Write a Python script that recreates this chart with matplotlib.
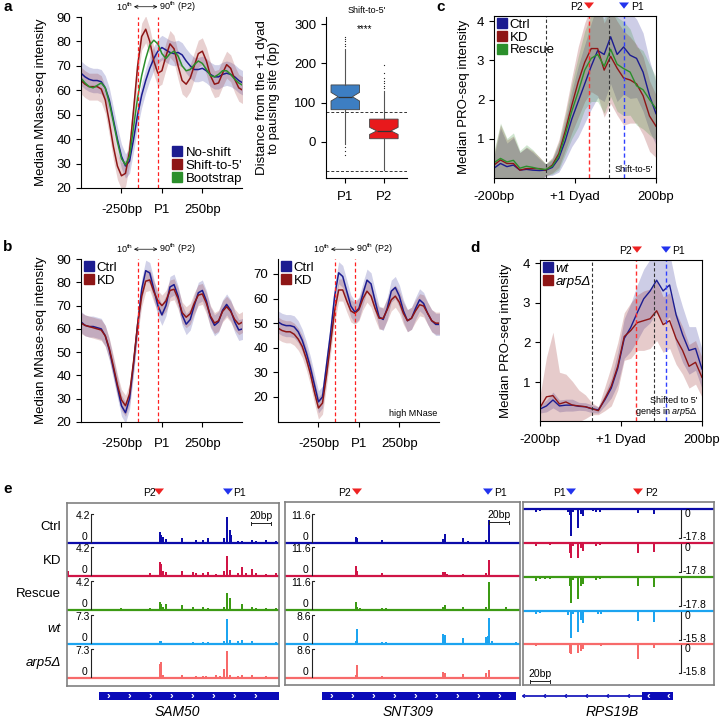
import numpy as np
import matplotlib.pyplot as plt
from matplotlib.lines import Line2D

plt.rcParams['font.family'] = ['Liberation Sans', 'DejaVu Sans']
plt.rcParams['mathtext.fontset'] = 'custom'
plt.rcParams['mathtext.rm'] = 'Liberation Sans'
plt.rcParams['mathtext.it'] = 'Liberation Sans:italic'
plt.rcParams['font.size'] = 9.5
plt.rcParams['axes.linewidth'] = 0.8
plt.rcParams['xtick.major.size'] = 3.5
plt.rcParams['ytick.major.size'] = 3.5
plt.rcParams['xtick.major.width'] = 0.8
plt.rcParams['ytick.major.width'] = 0.8

# ---------------- data ----------------
mnase_x = np.arange(-500, 501, 25)

a_noshift = [67, 65.5, 64.5, 64, 64, 63.5, 61, 56, 48, 40, 33, 29, 31, 40, 50, 58, 64, 69, 73, 76,
             77.5, 76.5, 75.5, 75, 75.5, 74.5, 72, 70, 68.5, 68.5, 69, 68, 66.5, 65.5, 65.5, 66.5,
             67, 66.5, 65.5, 64, 63]
a_shift5 = [64, 62.5, 61.5, 61.5, 61.5, 60.5, 56, 47, 37, 29, 25, 26, 35, 52, 70, 82, 85, 80, 72, 67,
            68, 74, 79, 77, 70, 64, 62.5, 65, 70, 75, 76, 72, 66, 62.5, 63, 67, 70.5, 69, 64.5, 61, 60]
a_boot = [65, 63, 61.5, 61, 62, 63, 61, 55, 47, 39, 32, 29.5, 33, 45, 57, 66, 73, 78.5, 80.5, 79,
          75, 73, 75, 76, 74, 70, 68, 68.5, 70.5, 72, 71, 68.5, 66, 65.5, 66.5, 68, 68, 66.5, 64.5,
          63, 62]
a_spread = [5.0, 5.5]  # no-shift, shift-to-5'

b_ctrl = [63, 61.5, 61, 61, 60.5, 60, 57, 51, 43, 35, 27, 24, 30, 45, 62, 77, 85, 84, 77, 70,
          66, 70, 78, 79, 74, 66, 62, 64, 70, 75.5, 76.5, 72, 65, 61.5, 63, 68, 70.5, 68, 63, 59.5, 60]
b_kd = [62.5, 61.5, 61, 60.5, 60, 59.5, 57, 51.5, 44, 36, 29.5, 27, 32, 46, 62, 74, 80.5, 81, 76, 72,
        70, 72, 76.5, 77, 73, 67, 65, 66.5, 71, 74.5, 75, 71, 65.5, 62.5, 63.5, 67.5, 69.5, 67.5, 64,
        62, 63]
bh_ctrl = [50.5, 49.5, 49, 49, 48.5, 46.5, 43, 38, 32, 25, 18, 20, 33, 46, 61, 70.5, 69, 63, 57, 54.5,
           56, 62, 67.5, 66, 59, 52.5, 51.5, 56, 63, 64.5, 61, 55, 51, 52, 56, 59.5, 58, 54, 51, 49.5,
           49.5]
bh_kd = [48, 47, 46.5, 46.5, 45.5, 43.5, 40.5, 35.5, 29.5, 22, 15.5, 17.5, 29, 42, 55, 63.5, 63.5, 59,
         55, 54, 55.5, 60, 63, 61, 56, 52, 52, 55.5, 59.5, 61, 58.5, 54, 51, 52, 55, 57.5, 57, 54, 51,
         50, 50]
b_spread = 4.5
p2_pct = [-148, -25]  # 10th / 90th percentile of P2

box_labels = ['P1', 'P2']
box_med = [115, 28]
box_q1 = [82, 8]
box_q3 = [145, 58]
box_lo = [-5, -72]
box_hi = [237, 130]
box_ci_lo = [104, 19]
box_ci_hi = [126, 37]
box_fliers = [[243, 250, 256, 262, 268, -12, -24, -34],
              [137, 143, 150, 156, 163, 175, 196]]

pro_x = np.arange(-200, 201, 16)
c_ctrl = [0.25, 0.37, 0.29, 0.33, 0.2, 0.22, 0.2, 0.19, 0.2, 0.27, 0.5, 0.95, 1.5, 1.95, 2.4, 2.85,
          3.25, 3.15, 3.6, 3.15, 3.34, 3.13, 3.05, 2.7, 2.1, 1.64]
c_kd = [0.33, 0.46, 0.37, 0.37, 0.2, 0.24, 0.24, 0.24, 0.2, 0.33, 0.62, 1.2, 1.85, 2.45, 2.95, 3.3,
        3.3, 2.75, 3.1, 2.8, 2.55, 2.5, 2.4, 2.1, 1.58, 1.32]
c_rescue = [0.39, 0.5, 0.41, 0.45, 0.25, 0.3, 0.27, 0.23, 0.22, 0.3, 0.56, 1.1, 1.7, 2.2, 2.75, 3.05,
            3.15, 2.85, 3.28, 2.9, 2.79, 2.7, 2.35, 2.25, 2.0, 1.77]
c_spread = [0.3, 0.9, 0.6, 0.7, 0.45, 0.55, 0.45, 0.3, 0.15, 0.2, 0.35, 0.5, 0.7, 0.9, 1.0, 1.1, 1.2,
            1.2, 1.2, 1.2, 1.2, 1.1, 1.0, 1.0, 0.9, 0.8]
c_marks = {'black': [-71, 83], 'P2': 35, 'P1': 122}

d_wt = [0.32, 0.4, 0.55, 0.4, 0.42, 0.42, 0.39, 0.38, 0.33, 0.3, 0.55, 0.85, 1.35, 2.1, 2.38, 2.75,
        3.1, 3.3, 3.57, 3.3, 3.45, 2.7, 2.2, 1.8, 1.85, 1.33]
d_arp5 = [0.36, 0.63, 0.66, 0.45, 0.5, 0.42, 0.4, 0.38, 0.33, 0.28, 0.58, 0.9, 1.4, 2.15, 2.3, 2.5,
          2.55, 2.6, 2.8, 2.45, 2.55, 2.1, 1.8, 1.4, 1.5, 1.12]
d_wt_spread = [0.1, 0.15, 0.2, 0.15, 0.15, 0.15, 0.1, 0.1, 0.1, 0.08, 0.15, 0.25, 0.4, 0.5, 0.6, 0.7,
               0.75, 0.8, 0.8, 0.8, 0.8, 0.75, 0.7, 0.6, 0.55, 0.5]
d_arp5_spread = [0.3, 1.0, 1.6, 0.8, 0.7, 0.6, 0.4, 0.3, 0.15, 0.1, 0.3, 0.5, 0.6, 0.6, 0.7, 0.7, 0.75,
                 0.75, 0.75, 0.7, 0.7, 0.65, 0.6, 0.55, 0.55, 0.5]
d_marks = {'black': [-71, 81], 'P2': 38, 'P1': 110}

track_names = ['Ctrl', 'KD', 'Rescue', 'wt', 'arp5Δ']
track_colors = ['#0c0caa', '#d01446', '#3c9a14', '#1ca4f0', '#f76a6a']

# SAM50 (bp from window start), heights as fraction of track scale
sam50_pos = [1, 32.7, 37.7, 54.3, 59.3, 82.7, 92.7, 94.3, 96, 98.7, 115.3, 126, 128.7, 136, 139.3,
             141, 149.3, 152.7, 156.7, 160, 162.7, 164.3, 171, 175.3, 179.3, 185.3, 189.3, 199.3, 209.3]
sam50_h = [
    [0, 0, .03, .03, 0, 0, .38, .28, .2, .14, .17, 0, .09, .11, 0, .16, 0, 0, .16, .9, .45, .28, .07,
     .07, 0, .11, .07, .09, .08],
    [.17, 0, .03, .03, .03, .11, .5, .4, .17, .14, .17, .14, .09, .11, 0, .14, .06, 0, .17, .68, .22,
     0, .09, .32, .11, .25, .11, .06, .09],
    [.04, .03, 0, .06, 0, .06, .28, .22, .1, .2, .17, .09, 0, .09, 0, .06, 0, 0, .09, .57, .43, 0, 0,
     .2, 0, .09, .06, .06, .07],
    [0, 0, 0, 0, 0, 0, .1, .09, 0, 0, 0, .06, 0, .06, 0, .06, 0, 0, .11, .87, .13, 0, .1, .13, 0, .11,
     0, 0, .06],
    [0, 0, 0, .05, 0, 0, .49, .54, .11, 0, .09, 0, .06, .06, .06, 0, .09, .06, .3, .92, .09, 0, .07,
     .09, 0, .11, 0, .06, 0],
]
sam50_scale = ['4.2', '4.2', '4.2', '7.3', '7.3']

snt309_pos = [71, 72.3, 75, 96.7, 101, 158.3, 160, 161.7, 178.3, 183.3, 187.7, 201, 203.3, 204.3,
              206.7, 221, 231]
snt309_h = [
    [.2, .17, 0, .09, 0, .14, .32, 0, .16, .06, 0, .11, 0, .8, 0, 0, 0],
    [.34, .17, 0, .09, .03, .14, .14, .07, .06, .03, 0, .09, 0, .55, 0, 0, 0],
    [.28, .1, .06, .06, .06, .09, .17, 0, .09, 0, 0, .11, 0, .97, 0, .09, 0],
    [.11, .51, 0, .06, .06, .34, .32, 0, .2, 0, 0, .23, .28, .91, .11, 0, .06],
    [.09, .45, 0, .06, 0, .2, .17, 0, .14, 0, .05, .17, 0, .28, 0, 0, 0],
]
snt309_scale = ['11.6', '11.6', '11.6', '8.6', '8.6']

rps19b_pos = [13.3, 16.7, 21.7, 26.7, 45, 46.7, 47.7, 50, 55, 58.3, 60, 70, 73.3, 75, 76.7, 78.3,
              108.3, 115, 131]
rps19b_h = [
    [.09, .06, .04, 0, .12, .21, .94, .12, .65, .18, .24, .06, .12, 0, .09, 0, 0, .14, .18],
    [.12, 0, .04, .06, 0, .35, .53, .12, .53, .18, .26, 0, .09, 0, .06, 0, .04, .35, .3],
    [.14, .06, .06, .06, 0, .3, .88, .12, .76, .3, .24, 0, .12, 0, .06, 0, 0, .3, .33],
    [.09, .06, .04, .04, .14, 0, .94, .12, .71, .3, .41, 0, 0, .12, 0, .12, .04, .35, .38],
    [.06, 0, .04, 0, 0, .3, .35, 0, .3, .24, .18, 0, 0, 0, 0, .06, 0, .53, .14],
]
rps19b_scale = ['-17.8', '-17.8', '-17.8', '-15.8', '-15.8']

NAVY = '#1c1c90'
DRED = '#8e1616'
GRN = '#2b8f2b'
GENE = '#0a0ab8'

W, H = 720, 718
fig = plt.figure(figsize=(7.2, 7.18), dpi=100)


def add_ax(l, t, r, b):
    return fig.add_axes([l / W, 1 - b / H, (r - l) / W, (b - t) / H])


# overlay in pixel coordinates for letters, arrows, gene models
ov = fig.add_axes([0, 0, 1, 1])
ov.set_xlim(0, W)
ov.set_ylim(H, 0)
ov.axis('off')

for letter, (x, y) in zip('abcde', [(3, 7), (3, 247), (436, 7), (470, 248), (3, 489)]):
    ov.text(x, y, letter, fontsize=11, fontweight='bold', va='center', ha='left')


def down_arrow(x, y, color):
    ov.annotate('', xy=(x, y + 4.5), xytext=(x, y - 4.5),
                arrowprops=dict(arrowstyle='simple,head_length=0.5,head_width=0.8,tail_width=0.45',
                                color=color, lw=0, mutation_scale=9))


def p_marks(p2_text_x, p2_arrow_x, p1_arrow_x, p1_text_x, y, p1_first=False):
    down_arrow(p2_arrow_x, y, '#ee2222')
    down_arrow(p1_arrow_x, y, '#2233ee')
    ov.text(p2_text_x, y, 'P2', ha='left' if p1_first else 'right', va='center', fontsize=7.5)
    ov.text(p1_text_x, y, 'P1', ha='right' if p1_first else 'left', va='center', fontsize=7.5)


def square_legend(ax, labels, colors, loc, anchor, italic=False, size=9.5):
    handles = [Line2D([], [], marker='s', ls='', color=c, markersize=6.5) for c in colors]
    leg = ax.legend(handles, labels, loc=loc, bbox_to_anchor=anchor, frameon=False,
                    handlelength=0.7, handletextpad=0.25, labelspacing=0.05,
                    borderaxespad=0, borderpad=0, fontsize=size)
    if italic:
        for t in leg.get_texts():
            t.set_fontstyle('italic')
    return leg


def pct_note(ax, x1, x2):
    tr = ax.get_xaxis_transform()
    ax.annotate('', xy=(x2 - 2, 1.06), xytext=(x1 - 25, 1.06), xycoords=tr, textcoords=tr,
                arrowprops=dict(arrowstyle='<->,head_length=0.25,head_width=0.12', lw=0.5,
                                shrinkA=0, shrinkB=0), annotation_clip=False)
    ax.text(x1 - 32, 1.06, r'10$^{\rm th}$', transform=tr, ha='right', va='center', fontsize=6.5)
    ax.text(x2 + 4, 1.06, r'90$^{\rm th}$ (P2)', transform=tr, ha='left', va='center', fontsize=6.5)


def mnase_axes(ax, series, colors, spreads, ylim, yticks):
    for ys, col, sp in zip(series, colors, spreads):
        ys = np.array(ys)
        if sp:
            ax.fill_between(mnase_x, ys - sp, ys + sp, color=col, alpha=0.2, lw=0)
    for ys, col in zip(series, colors):
        ax.plot(mnase_x, ys, color=col, lw=1.1)
    for xv in p2_pct:
        ax.axvline(xv, color='#ff2020', ls=(0, (3, 2)), lw=0.9)
    ax.set_xlim(-500, 495)
    ax.set_ylim(*ylim)
    ax.set_yticks(yticks)
    ax.set_xticks([-250, 0, 250])
    ax.set_xticklabels(['-250bp', 'P1', '250bp'])
    ax.spines['top'].set_visible(False)
    ax.spines['right'].set_visible(False)
    ax.tick_params(axis='x', pad=8)
    pct_note(ax, p2_pct[0], p2_pct[1])


# ---------- panel a (profile) ----------
axa = add_ax(81, 17, 242, 188)
mnase_axes(axa, [a_noshift, a_shift5, a_boot], [NAVY, DRED, GRN], [a_spread[0], a_spread[1], 0],
           (20, 90), range(20, 91, 10))
axa.set_ylabel('Median MNase-seq intensity', labelpad=7)
square_legend(axa, ['No-shift', 'Shift-to-5\'', 'Bootstrap'], [NAVY, DRED, GRN],
              'lower right', (1.0, 0.02))

# ---------- panel a (box plot) ----------
axbox = add_ax(326, 17, 407, 178)
stats = []
for i in range(2):
    stats.append(dict(med=box_med[i], q1=box_q1[i], q3=box_q3[i], whislo=box_lo[i],
                      whishi=box_hi[i], cilo=box_ci_lo[i], cihi=box_ci_hi[i],
                      fliers=box_fliers[i], label=box_labels[i]))
bp = axbox.bxp(stats, positions=[1, 2], widths=0.74, shownotches=True, patch_artist=True,
               showcaps=False,
               boxprops=dict(edgecolor='#444444', lw=0.6),
               medianprops=dict(color='#333333', lw=0.9),
               whiskerprops=dict(color='#555555', lw=0.8),
               flierprops=dict(marker='.', markersize=1.8, markerfacecolor='#222222',
                               markeredgecolor='none'))
for patch, col in zip(bp['boxes'], ['#3d7ec2', '#e8191c']):
    patch.set_facecolor(col)
axbox.axhline(75, color='#333333', ls=(0, (3, 2)), lw=0.7)
axbox.axhline(-75, color='#333333', ls=(0, (3, 2)), lw=0.7)
axbox.set_xlim(0.5, 2.6)
axbox.set_ylim(-92, 318)
axbox.set_yticks([0, 100, 200, 300])
axbox.spines['top'].set_visible(False)
axbox.spines['right'].set_visible(False)
axbox.tick_params(axis='x', pad=6)
axbox.set_ylabel('Distance from the +1 dyad\nto pausing site (bp)', labelpad=10, linespacing=1.05)
axbox.set_title('Shift-to-5\'', fontsize=6.5, pad=3)
axbox.text(1.5, 288, '****', ha='center', va='center', fontsize=7)


# ---------- PRO-seq panels ----------
def pro_axes(ax, series, colors, spreads, marks, ylim, pad):
    for ys, col, sp in zip(series, colors, spreads):
        ys = np.array(ys)
        sp = np.array(sp)
        ax.fill_between(pro_x, ys - sp, ys + sp, color=col, alpha=0.22, lw=0)
    for ys, col in zip(series, colors):
        ax.plot(pro_x, ys, color=col, lw=1.0)
    for xv in marks['black']:
        ax.axvline(xv, color='#333333', ls=(0, (3, 2)), lw=0.8)
    ax.axvline(marks['P2'], color='#ff3030', ls=(0, (3, 2)), lw=1.0)
    ax.axvline(marks['P1'], color='#3040ff', ls=(0, (3, 2)), lw=1.0)
    ax.set_xlim(-200, 200)
    ax.set_ylim(*ylim)
    ax.set_yticks([1, 2, 3, 4])
    ax.set_xticks([-200, 0, 200])
    ax.set_xticklabels(['-200bp', '+1 Dyad', '200bp'])
    ax.tick_params(axis='x', pad=6)
    ax.set_ylabel('Median PRO-seq intensity', labelpad=pad)


axc = add_ax(494, 16, 656, 178)
pro_axes(axc, [c_ctrl, c_kd, c_rescue], [NAVY, DRED, GRN],
         [c_spread, c_spread, c_spread], c_marks, (0.0, 4.13), 5)
square_legend(axc, ['Ctrl', 'KD', 'Rescue'], [NAVY, DRED, GRN], 'upper left', (0.02, 0.985))
axc.text(0.98, 0.05, 'Shift-to-5\'', transform=axc.transAxes, ha='right', va='center', fontsize=6.5)
p_marks(583, 589, 624, 631, 7)

axd = add_ax(540, 260, 702, 421)
pro_axes(axd, [d_wt, d_arp5], [NAVY, DRED], [d_wt_spread, d_arp5_spread], d_marks, (0.02, 4.08), 8)
square_legend(axd, ['wt', 'arp5Δ'], [NAVY, DRED], 'upper left', (0.02, 0.985), italic=True)
axd.text(0.97, 0.09, 'Shifted to 5\'\ngenes in $\\it{arp5}$Δ', transform=axd.transAxes,
         ha='right', va='center', fontsize=6.5, linespacing=1.0)
p_marks(632, 637, 666, 672, 251)

# ---------- panel b ----------
axb1 = add_ax(81, 259, 242, 422)
mnase_axes(axb1, [b_ctrl, b_kd], [NAVY, DRED], [b_spread, b_spread], (20, 90), range(20, 91, 10))
axb1.set_ylabel('Median MNase-seq intensity', labelpad=7)
square_legend(axb1, ['Ctrl', 'KD'], [NAVY, DRED], 'upper left', (0.02, 0.985))

axb2 = add_ax(278, 259, 439, 422)
mnase_axes(axb2, [bh_ctrl, bh_kd], [NAVY, DRED], [b_spread, b_spread], (9.8, 76.1),
           range(20, 71, 10))
square_legend(axb2, ['Ctrl', 'KD'], [NAVY, DRED], 'upper left', (0.02, 0.985))
axb2.text(0.99, 0.05, 'high MNase', transform=axb2.transAxes, ha='right', va='center', fontsize=6.5)


# ---------- panel e ----------
TRACK_H = 29


def track_panel(l, t, r, b, pos, heights, scales, baselines, axis_x, reverse=False):
    ax = add_ax(l, t, r, b)
    w, h = r - l, b - t
    ax.set_xlim(0, w)
    ax.set_ylim(h, 0)
    ax.set_xticks([])
    ax.set_yticks([])
    for s in ax.spines.values():
        s.set_color('#808080')
        s.set_linewidth(1.2)
    for hs, col, y0, lab in zip(heights, track_colors, baselines, scales):
        hh = np.array(hs) * TRACK_H
        ax.plot([0, w], [y0, y0], color=col, lw=1.6, solid_capstyle='butt')
        if reverse:
            ax.bar(pos, hh, bottom=y0, width=2.0, color=col, lw=0)
            ax.plot([axis_x - 2, axis_x, axis_x], [y0 + TRACK_H, y0 + TRACK_H, y0 + 1],
                    color='#222222', lw=0.8)
            if col != track_colors[2]:
                ax.text(axis_x + 4, y0 + 5, '0', ha='left', va='center', fontsize=7.5)
            ax.text(axis_x + 2, y0 + TRACK_H - 1, lab, ha='left', va='center', fontsize=7.5)
        else:
            ax.bar(pos, hh, bottom=y0 - hh, width=2.0, color=col, lw=0)
            ax.plot([axis_x, axis_x, axis_x + 2], [y0 - 1, y0 - TRACK_H, y0 - TRACK_H],
                    color='#222222', lw=0.8)
            ax.text(axis_x - 1, y0 - TRACK_H + 2, lab, ha='right', va='center', fontsize=7.5)
            ax.text(axis_x - 4, y0 - 6, '0', ha='right', va='center', fontsize=7.5)
    return ax


ax_e1 = track_panel(67, 503, 279, 686, sam50_pos, sam50_h, sam50_scale,
                    [40, 73, 107, 141, 175], 24)
ax_e2 = track_panel(285, 502, 520, 685, snt309_pos, snt309_h, snt309_scale,
                    [41, 74, 108, 142, 176], 27)
ax_e3 = track_panel(523, 502, 714, 685, rps19b_pos, rps19b_h, rps19b_scale,
                    [7, 41, 75, 109, 142], 158, reverse=True)


def scale_bar(ax, x0, y):
    ax.plot([x0, x0 + 20], [y, y], color='#222222', lw=0.7)
    ax.plot([x0, x0], [y - 1.5, y + 1.5], color='#222222', lw=0.7)
    ax.plot([x0 + 20, x0 + 20], [y - 1.5, y + 1.5], color='#222222', lw=0.7)
    ax.text(x0 + 10, y - 2, '20bp', ha='center', va='bottom', fontsize=7.5)


scale_bar(ax_e1, 184, 20)
scale_bar(ax_e2, 204, 20)
scale_bar(ax_e3, 7, 179)

for name, y in zip(track_names, [527, 561, 594, 629, 663]):
    ov.text(61, y, name, ha='right', va='center', fontsize=9.5,
            fontstyle='italic' if name in ('wt', 'arp5Δ') else 'normal')

p_marks(156, 159, 228, 233, 493)
p_marks(351, 357, 488, 494, 493)
p_marks(645, 638, 571, 566, 493, p1_first=True)

# gene models
gy = 696
for x0, x1 in [(99, 279), (322, 516)]:
    ov.add_patch(plt.Rectangle((x0, gy - 4), x1 - x0, 8, color=GENE, lw=0))
    for cx in np.arange(x0 + 9, x1 - 4, 21):
        ov.text(cx, gy, '›', color='white', ha='center', va='center', fontsize=8, fontweight='bold')
ov.plot([523, 642], [gy, gy], color=GENE, lw=1.2)
for cx in np.arange(523, 640, 21):
    ov.text(cx, gy, '‹', color=GENE, ha='center', va='center', fontsize=8, fontweight='bold')
ov.add_patch(plt.Rectangle((642, gy - 4), 31, 8, color=GENE, lw=0))
for cx in [648, 668]:
    ov.text(cx, gy, '‹', color='white', ha='center', va='center', fontsize=8, fontweight='bold')

for name, x in zip(['SAM50', 'SNT309', 'RPS19B'], [177, 408, 612]):
    ov.text(x, 712, name, ha='center', va='center', fontsize=10, fontstyle='italic')

fig.savefig('out.png', dpi=100)
